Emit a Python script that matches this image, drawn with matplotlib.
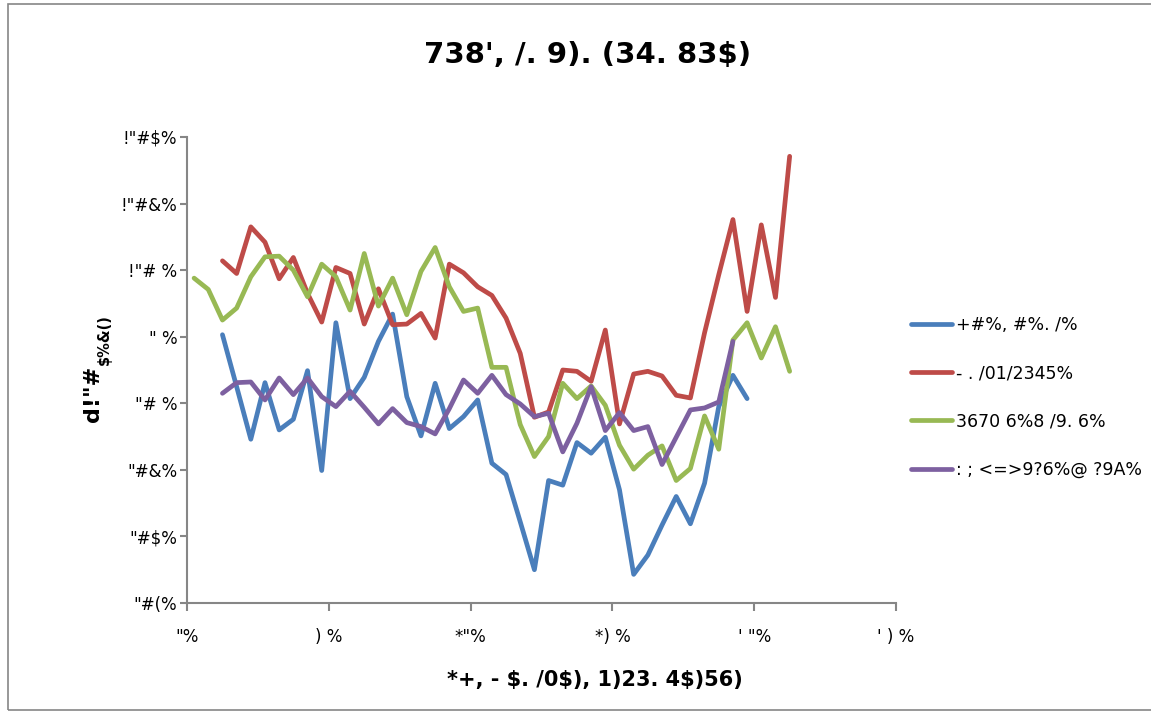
import matplotlib
matplotlib.use("Agg")
import matplotlib.pyplot as plt
from matplotlib.patches import Rectangle

# ---------------- data ----------------
title = "738', /. 9). (34. 83$)"
xlabel = "*+, - $. /0$), 1)23. 4$)56)"
ylabel_main = 'd!"#'
ylabel_sub = "$%&()"

x_ticks = [0, 5, 10, 15, 20, 25]
x_tick_labels = ['"%', ') %', '*"%', '*) %', '\' "%', '\' ) %']
y_ticks = [0.0, 0.2, 0.4, 0.6, 0.8, 1.0, 1.2, 1.4]
y_tick_labels = ['"#(%', '"#$%', '"#&%', '"# %', '" %', '!"# %', '!"#&%', '!"#$%']

series_names = ['+#%, #%. /%', '- . /01/2345%', '3670 6%8 /9. 6%', ': ; <=>9?6%@ ?9A%']
series_colors = ['#4A7EBB', '#BE4B48', '#98B954', '#7D60A0']

green_x = [0.25 + 0.5 * i for i in range(43)]
green_y = [0.976, 0.942, 0.850, 0.886, 0.980, 1.040, 1.042, 1.000, 0.920, 1.018,
           0.980, 0.880, 1.050, 0.892, 0.976, 0.866, 0.996, 1.068, 0.950, 0.876,
           0.886, 0.708, 0.708, 0.536, 0.440, 0.500, 0.660, 0.614, 0.652, 0.594,
           0.474, 0.402, 0.444, 0.472, 0.368, 0.404, 0.562, 0.462, 0.790, 0.842,
           0.736, 0.830, 0.696]

red_x = [1.25 + 0.5 * i for i in range(41)]
red_y = [1.028, 0.990, 1.130, 1.084, 0.974, 1.038, 0.930, 0.844, 1.008, 0.990,
         0.838, 0.944, 0.836, 0.838, 0.870, 0.796, 1.018, 0.992, 0.950, 0.924,
         0.856, 0.750, 0.558, 0.574, 0.700, 0.696, 0.666, 0.820, 0.538, 0.688,
         0.696, 0.682, 0.624, 0.616, 0.812, 0.986, 1.152, 0.876, 1.136, 0.918,
         1.342]

blue_x = [1.25 + 0.5 * i for i in range(38)]
blue_y = [0.806, 0.650, 0.492, 0.662, 0.520, 0.552, 0.698, 0.398, 0.842, 0.614,
          0.678, 0.786, 0.868, 0.620, 0.502, 0.660, 0.524, 0.560, 0.610, 0.420,
          0.386, 0.244, 0.100, 0.368, 0.354, 0.482, 0.450, 0.498, 0.340, 0.086,
          0.144, 0.234, 0.320, 0.238, 0.360, 0.590, 0.684, 0.614]

purple_x = [1.25 + 0.5 * i for i in range(37)]
purple_y = [0.630, 0.662, 0.664, 0.610, 0.676, 0.626, 0.676, 0.620, 0.590, 0.636,
            0.588, 0.538, 0.584, 0.542, 0.530, 0.508, 0.584, 0.670, 0.630, 0.684,
            0.626, 0.598, 0.560, 0.570, 0.454, 0.540, 0.650, 0.518, 0.572, 0.518,
            0.530, 0.416, 0.498, 0.580, 0.586, 0.604, 0.786]

series_x = [blue_x, red_x, green_x, purple_x]
series_y = [blue_y, red_y, green_y, purple_y]

# ---------------- figure ----------------
W, H = 1151, 713
fig = plt.figure(figsize=(W / 100, H / 100), dpi=100)
font = 'DejaVu Sans'

L, R, B, T = 187, 896, 603, 137
ax = fig.add_axes([L / W, 1 - B / H, (R - L) / W, (B - T) / H])

for xs, ys, c, n in zip(series_x, series_y, series_colors, series_names):
    ax.plot(xs, ys, color=c, lw=3.4, label=n, solid_joinstyle='round', solid_capstyle='round')

ax.set_xlim(0, 25)
ax.set_ylim(0, 1.4)
ax.set_xticks(x_ticks)
ax.set_xticklabels(x_tick_labels, fontsize=12, family=font)
ax.set_yticks(y_ticks)
ax.set_yticklabels(y_tick_labels, fontsize=12, family=font)

for s in ['top', 'right']:
    ax.spines[s].set_visible(False)
for s in ['left', 'bottom']:
    ax.spines[s].set_color('#868686')
    ax.spines[s].set_linewidth(1.5)
ax.tick_params(axis='x', direction='out', length=6, width=1.5, color='#868686', pad=12)
ax.tick_params(axis='y', direction='out', length=5, width=1.5, color='#868686', pad=2)

fig.text(588 / W, 1 - 55 / H, title, ha='center', va='center', fontsize=21,
         fontweight='bold', family=font)
fig.text(595 / W, 1 - 680 / H, xlabel, ha='center', va='center', fontsize=15,
         fontweight='bold', family=font)
fig.text(93 / W, 1 - 394 / H, ylabel_main, ha='center', va='center', rotation=90,
         fontsize=16, fontweight='bold', family=font)
fig.text(104 / W, 1 - 340 / H, ylabel_sub, ha='center', va='center', rotation=90,
         fontsize=10.5, fontweight='bold', family=font)

leg = fig.legend(loc='upper left', bbox_to_anchor=(895 / W, 1 - 300 / H),
                 frameon=False, prop={'family': font, 'size': 12.5},
                 handlelength=2.4, handletextpad=0.2, labelspacing=1.75)

fig.patches.append(Rectangle((8 / W, 3 / H), (W + 20) / W, (H - 7) / H,
                             transform=fig.transFigure, fill=False,
                             edgecolor='#868686', lw=1.2))

fig.savefig('out.png', dpi=100)
